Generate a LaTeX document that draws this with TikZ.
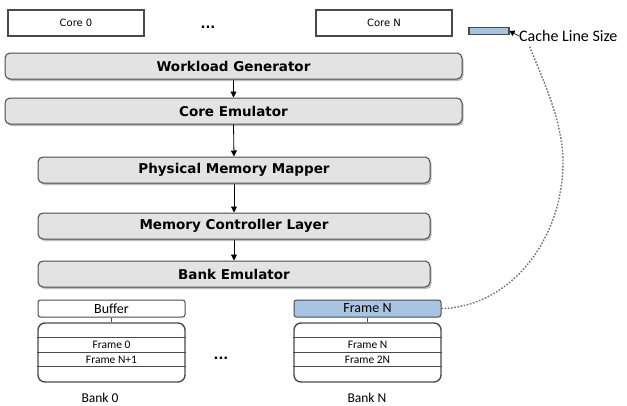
\documentclass[tikz,border=0pt]{standalone}
\usepackage{fontspec}
\setmainfont{DejaVu Sans}
\newfontfamily\calibri{Carlito}
\usetikzlibrary{shadows,arrows.meta}
\definecolor{layergray}{HTML}{E3E3E3}
\definecolor{edgegray}{HTML}{4A4A4A}
\definecolor{frameblue}{HTML}{A9C4E0}
\definecolor{dashgray}{HTML}{707070}

\begin{document}
\begin{tikzpicture}[x=1pt,y=-1pt,
    core/.style={draw=edgegray,line width=1.1pt,fill=white,minimum width=136pt,minimum height=26pt,inner sep=0pt,font=\fontsize{10}{12}\selectfont},
    layer/.style={draw=edgegray,line width=1pt,fill=layergray,rounded corners=5pt,minimum height=26pt,inner sep=0pt,
        font=\bfseries\fontsize{13.5}{15}\selectfont,drop shadow={shadow xshift=1.5pt,shadow yshift=-2pt,opacity=0.5}},
    buffer/.style={draw=edgegray,line width=1pt,fill=white,rounded corners=2.5pt,minimum width=147pt,minimum height=17pt,inner sep=0pt,
        font=\calibri\fontsize{14}{15}\selectfont},
    bank/.style={draw=edgegray,line width=1.4pt,fill=white,rounded corners=7pt,minimum width=147pt,minimum height=59pt,inner sep=0pt},
    bankline/.style={edgegray,line width=0.9pt},
    frametext/.style={inner sep=0pt,font=\calibri\fontsize{11.5}{13}\selectfont},
    banktext/.style={inner sep=0pt,font=\calibri\fontsize{13.5}{15}\selectfont},
    dots/.style={inner sep=0pt,font=\bfseries\fontsize{13}{14}\selectfont},
    flow/.style={black,line width=0.8pt,-{Triangle[length=6pt,width=6pt]}}]
    \useasboundingbox (0,0) rectangle (627,405);

    % cores
    \node[core] (core0) at (76,23) {Core 0};
    \node[dots] (coredots) at (208,27) {...};
    \node[core] (coreN) at (384,23) {Core N};

    % cache line size
    \node[draw=edgegray,line width=1.1pt,fill=frameblue,minimum width=40pt,minimum height=7pt,inner sep=0pt] (cacheline) at (489,31) {};
    \node[anchor=west,inner sep=0pt,font=\calibri\fontsize{16}{18}\selectfont] (cachelabel) at (519,36) {Cache Line Size};
    \draw[black,line width=0.6pt,-{Triangle[length=5pt,width=6pt]}] (cachelabel.west) -- (cacheline.east);
    \coordinate (cacheend) at (529,45);

    % layers
    \node[layer,minimum width=457pt] (workload) at (233.5,66) {Workload Generator};
    \node[layer,minimum width=457pt] (coreemu) at (233.5,111) {Core Emulator};
    \node[layer,minimum width=392pt] (mapper) at (234,170) {Physical Memory Mapper};
    \node[layer,minimum width=392pt] (memctrl) at (234,226) {Memory Controller Layer};
    \node[layer,minimum width=392pt] (bankemu) at (234,274) {Bank Emulator};

    \draw[flow] (workload.south) -- (coreemu.north);
    \draw[flow] (coreemu.south) -- (mapper.north);
    \draw[flow] (mapper.south) -- (memctrl.north);
    \draw[flow] (memctrl.south) -- (bankemu.north);

    % banks
    \node[buffer] (buf0) at (111.5,308.5) {Buffer};
    \node[buffer,fill=frameblue] (bufN) at (367.5,308.5) {Frame N};
    \node[bank] (bank0) at (111.5,352.5) {};
    \node[bank] (bankN) at (367.5,352.5) {};
    \draw[bankline] (buf0.south) -- (bank0.north);
    \draw[bankline] (bufN.south) -- (bankN.north);
    \foreach \b in {bank0,bankN}
        \foreach \y in {337,352,366}
            \draw[bankline] (\b.west |- 0,\y) -- (\b.east |- 0,\y);

    \node[frametext] (frame0) at (111.5,345) {Frame 0};
    \node[frametext] (frameN1) at (111.5,359.5) {Frame N+1};
    \node[frametext] (frameN) at (367.5,345) {Frame N};
    \node[frametext] (frame2N) at (367.5,359.5) {Frame 2N};
    \node[dots] (bankdots) at (221,358) {...};

    \node[banktext] (bank0label) at (100,398) {Bank 0};
    \node[banktext] (bankNlabel) at (367,398) {Bank N};

    % mapping of the buffered frame to the cache line
    \draw[dashgray,line width=1.4pt,dash pattern=on 1.6pt off 1.6pt]
        (bufN.east) .. controls (510,307) and (563,240) .. (563,162)
        .. controls (563,120) and (541,76) .. (cacheend);
\end{tikzpicture}
\end{document}
